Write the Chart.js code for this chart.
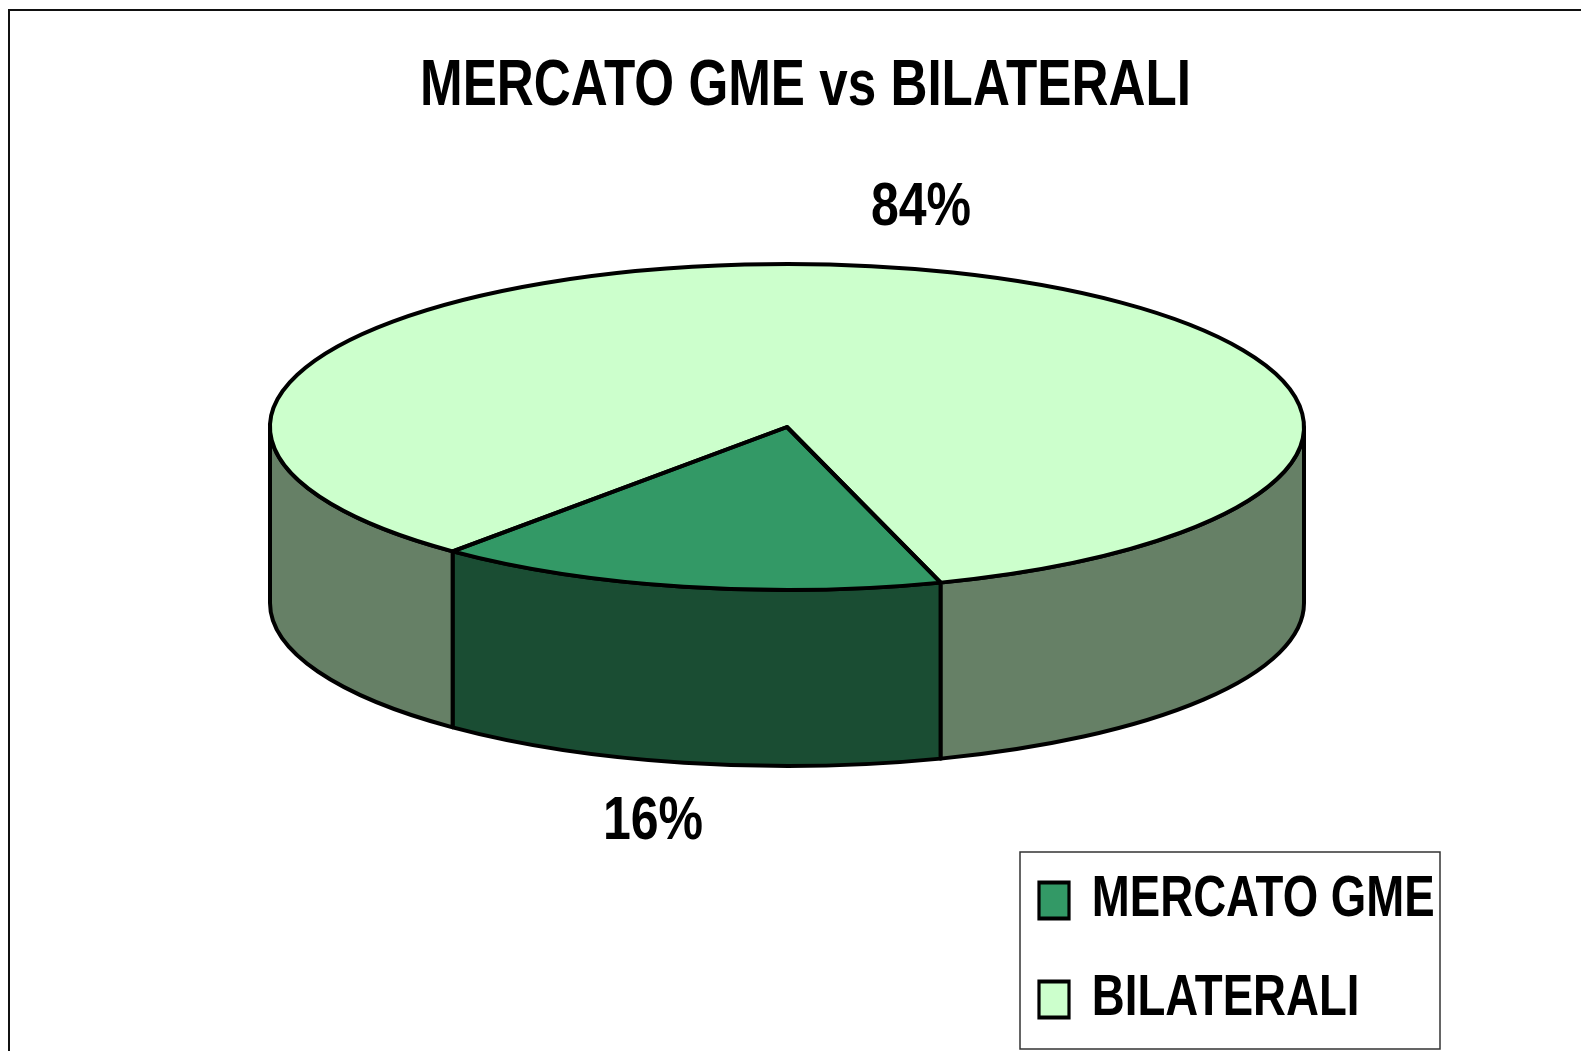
<!DOCTYPE html>
<html>
<head>
<meta charset="utf-8">
<script src="https://cdn.jsdelivr.net/npm/chart.js@4.4.1/dist/chart.umd.min.js"></script>
<style>
  html, body { margin: 0; padding: 0; background: #ffffff; overflow: hidden; }
  #wrap { position: relative; width: 1581px; height: 1051px; }
</style>
</head>
<body>
<div id="wrap"><canvas id="c"></canvas></div>
<script>
// ---- data ----
const categories = ['MERCATO GME', 'BILATERALI'];
const shares = [16, 84];
const chartTitle = 'MERCATO GME vs BILATERALI';

// ---- styles / layout ----
const FONT = "'Liberation Sans', Arial, sans-serif";
const NARROW = 0.8;            // horizontal squeeze to mimic a narrow bold face
const LABEL_NARROW = 0.82;
const topColors = ['#339966', '#CCFFCC'];
const sideColors = ['#1A4D33', '#668066'];
const GEO = { cx: 787, cy: 427, rx: 517, ry: 163, depth: 176 };
const LEGEND_BOX = { left: 1020, top: 852, width: 420, height: 197 };
const OUTLINE = 4;

function sidePath(ctx, a, b) {
  const { cx, cy, rx, ry, depth } = GEO;
  ctx.beginPath();
  ctx.moveTo(cx + rx * Math.cos(a), cy + ry * Math.sin(a));
  ctx.ellipse(cx, cy, rx, ry, 0, a, b, false);
  ctx.lineTo(cx + rx * Math.cos(b), cy + depth + ry * Math.sin(b));
  ctx.ellipse(cx, cy + depth, rx, ry, 0, b, a, true);
  ctx.closePath();
}

function narrowDraw(box, anchorFn) {
  if (!box || box._narrowed) return;
  const orig = box.draw;
  box.draw = function (area) {
    const ctx = this.ctx;
    const ax = anchorFn(this);
    ctx.save();
    ctx.translate(ax, 0);
    ctx.scale(NARROW, 1);
    ctx.translate(-ax, 0);
    orig.call(this, area);
    ctx.restore();
  };
  box._narrowed = true;
}

const pie3d = {
  id: 'pie3d',
  afterLayout(chart) {
    const lg = chart.legend;
    lg.left = 1005.4; lg.top = 830; lg.width = 700; lg.height = 2000;
    lg.right = lg.left + lg.width; lg.bottom = lg.top + lg.height;
    narrowDraw(lg, (b) => b.left);
    narrowDraw(chart.titleBlock, (b) => (b.left + b.right) / 2);
  },
  beforeDraw(chart) {
    const ctx = chart.ctx;
    ctx.save();
    ctx.strokeStyle = '#111';
    ctx.lineWidth = 2;
    ctx.strokeRect(9, 10, 2000, 2000);
    ctx.restore();
  },
  beforeDatasetsDraw(chart) {
    const ctx = chart.ctx;
    const meta = chart.getDatasetMeta(0);
    ctx.save();
    ctx.lineJoin = 'round';
    meta.data.forEach((arc, i) => {
      const s = arc.startAngle, e = arc.endAngle;
      for (let k = -1; k <= 2; k++) {
        const lo = Math.max(s, 2 * Math.PI * k);
        const hi = Math.min(e, 2 * Math.PI * k + Math.PI);
        if (hi > lo) {
          sidePath(ctx, lo, hi);
          ctx.fillStyle = sideColors[i];
          ctx.fill();
          ctx.lineWidth = OUTLINE;
          ctx.strokeStyle = '#000';
          ctx.stroke();
        }
      }
    });
    const a0 = meta.data[0];
    const R = a0.outerRadius;
    ctx.translate(GEO.cx, GEO.cy);
    ctx.scale(GEO.rx / R, GEO.ry / R);
    ctx.translate(-a0.x, -a0.y);
  },
  afterDatasetsDraw(chart) {
    const ctx = chart.ctx;
    ctx.restore();
    const meta = chart.getDatasetMeta(0);
    const { cx, cy, rx, ry, depth } = GEO;
    ctx.save();
    ctx.lineJoin = 'round';
    ctx.lineWidth = OUTLINE;
    ctx.strokeStyle = '#000';
    meta.data.forEach((arc) => {
      const s = arc.startAngle, e = arc.endAngle;
      ctx.beginPath();
      ctx.moveTo(cx, cy);
      ctx.lineTo(cx + rx * Math.cos(s), cy + ry * Math.sin(s));
      ctx.ellipse(cx, cy, rx, ry, 0, s, e, false);
      ctx.closePath();
      ctx.stroke();
    });
    // percentage labels
    const vals = chart.data.datasets[0].data;
    const total = vals.reduce((a, b) => a + b, 0);
    ctx.fillStyle = '#000';
    ctx.font = 'bold 61px ' + FONT;
    ctx.textAlign = 'center';
    ctx.textBaseline = 'middle';
    meta.data.forEach((arc, i) => {
      const mid = (arc.startAngle + arc.endAngle) / 2;
      const sn = Math.sin(mid), cs = Math.cos(mid);
      const x = cx + cs * rx * 1.3;
      const y = cy + sn * ry * 1.37 + (sn > 0 ? depth : 0);
      ctx.save();
      ctx.translate(x, y);
      ctx.scale(LABEL_NARROW, 1);
      ctx.fillText(Math.round(vals[i] / total * 100) + '%', 0, 0);
      ctx.restore();
    });
    ctx.restore();
  },
  afterDraw(chart) {
    const ctx = chart.ctx;
    ctx.save();
    ctx.strokeStyle = '#333';
    ctx.lineWidth = 1.5;
    ctx.strokeRect(LEGEND_BOX.left, LEGEND_BOX.top, LEGEND_BOX.width, LEGEND_BOX.height);
    ctx.restore();
  }
};

new Chart(document.getElementById('c'), {
  type: 'pie',
  data: {
    labels: categories,
    datasets: [{
      data: shares,
      backgroundColor: topColors,
      borderWidth: 0,
      clip: false
    }]
  },
  options: {
    responsive: true,
    maintainAspectRatio: false,
    animation: false,
    events: [],
    rotation: 162.7,
    layout: { padding: { left: 30 } },
    plugins: {
      tooltip: { enabled: false },
      title: {
        display: true,
        text: chartTitle,
        color: '#000',
        font: { family: FONT, size: 64, weight: 'bold' },
        padding: { top: 49, bottom: 20 }
      },
      legend: {
        display: true,
        position: 'right',
        align: 'start',
        labels: {
          color: '#000',
          font: { family: FONT, size: 57, weight: 'bold' },
          boxWidth: 37.5,
          boxHeight: 36,
          padding: 42,
          generateLabels(chart) {
            const ds = chart.data.datasets[0];
            return chart.data.labels.map((t, i) => ({
              text: t,
              fillStyle: ds.backgroundColor[i],
              strokeStyle: '#000',
              lineWidth: 4,
              hidden: false,
              index: i,
              fontColor: '#000'
            }));
          }
        }
      }
    }
  },
  plugins: [pie3d]
});
</script>
</body>
</html>
